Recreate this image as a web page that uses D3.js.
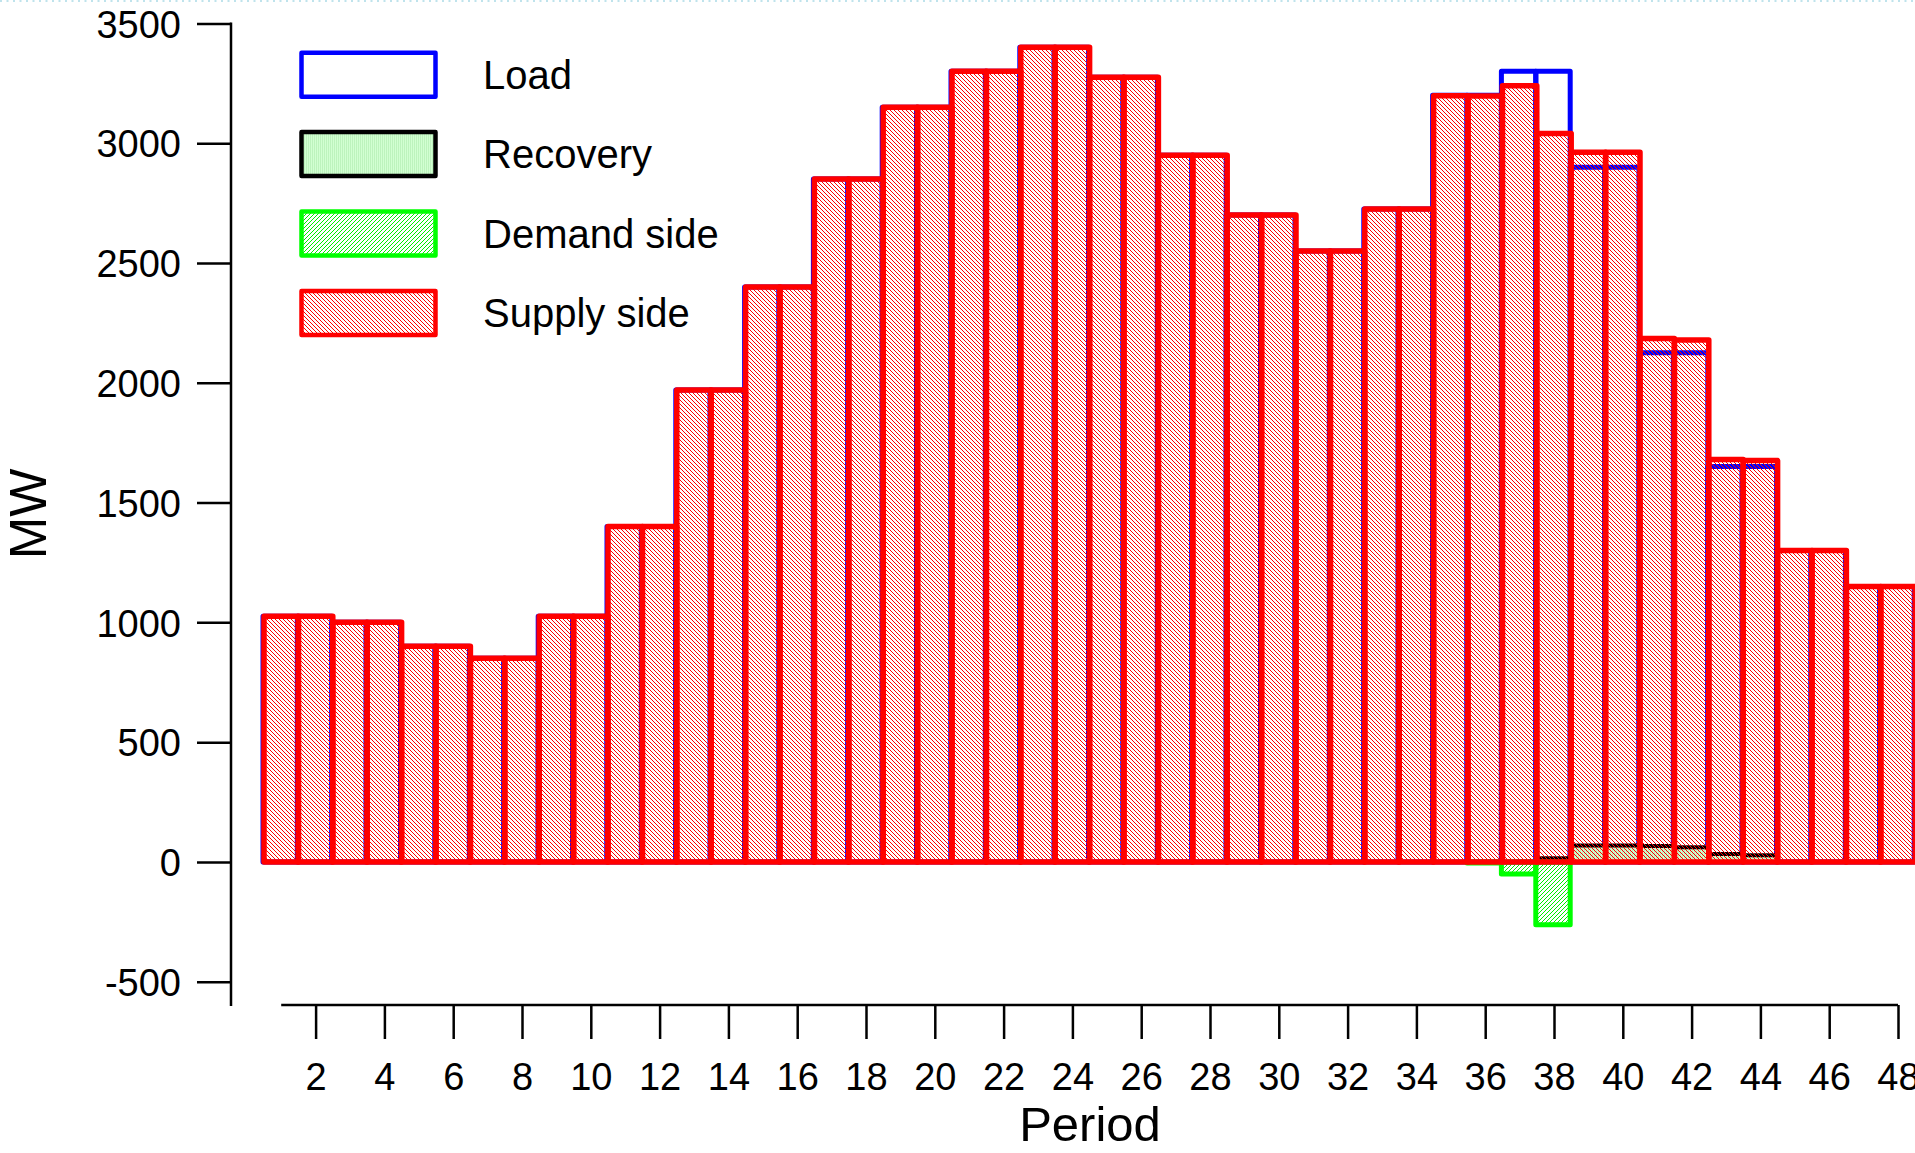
<!DOCTYPE html>
<html><head><meta charset="utf-8">
<script src="https://cdn.jsdelivr.net/npm/d3@7"></script>
<style>
html,body{margin:0;padding:0;background:#fff;}
svg{display:block;font-family:"Liberation Sans",Arial,sans-serif;}
</style>
</head><body>
<svg id="chart" width="1915" height="1153"></svg>
<script>
// ---- data ----
const periods = [1,2,3,4,5,6,7,8,9,10,11,12,13,14,15,16,17,18,19,20,21,22,23,24,
                 25,26,27,28,29,30,31,32,33,34,35,36,37,38,39,40,41,42,43,44,45,46,47,48];
const load = [1025,1025,1000,1000,900,900,850,850,1025,1025,1400,1400,1970,1970,2400,2400,
              2850,2850,3150,3150,3300,3300,3400,3400,3275,3275,2950,2950,2700,2700,2550,2550,
              2725,2725,3200,3200,3300,3300,2900,2900,2125,2125,1650,1650,1300,1300,1150,1150];
const recovery = [0,0,0,0,0,0,0,0,0,0,0,0,0,0,0,0,
                  0,0,0,0,0,0,0,0,0,0,0,0,0,0,0,0,
                  0,0,0,0,0,15,68,68,66,61,33,28,0,0,0,0];
const demandSide = [0,0,0,0,0,0,0,0,0,0,0,0,0,0,0,0,
                    0,0,0,0,0,0,0,0,0,0,0,0,0,0,0,0,
                    0,0,0,-5,-50,-262,0,0,0,0,0,0,0,0,0,0];
const supplySide = [1025,1025,1000,1000,900,900,850,850,1025,1025,1400,1400,1970,1970,2400,2400,
                    2850,2850,3150,3150,3300,3300,3400,3400,3275,3275,2950,2950,2700,2700,2550,2550,
                    2725,2725,3198,3197,3240,3040,2962,2962,2185,2178,1680,1675,1300,1300,1150,1150];
const xTickValues = [2,4,6,8,10,12,14,16,18,20,22,24,26,28,30,32,34,36,38,40,42,44,46,48];
const yTickValues = [-500,0,500,1000,1500,2000,2500,3000,3500];
const legendLabels = ["Load","Recovery","Demand side","Supply side"];

// ---- setup ----
const svg = d3.select("#chart");
const x = d3.scaleLinear().domain([0.5, 48.5]).range([264, 1915.2]);
const y = d3.scaleLinear().domain([-500, 3500]).range([981.7, 23.4]);
const bw = x(1.5) - x(0.5);

// patterns
const defs = svg.append("defs");
function hatch(id, color, dir) {
  const p = defs.append("pattern").attr("id", id)
    .attr("patternUnits", "userSpaceOnUse").attr("width", 4).attr("height", 4);
  for (let i = 0; i < 4; i++) {
    p.append("rect").attr("x", dir > 0 ? i : 3 - i).attr("y", i)
      .attr("width", 1).attr("height", 1).attr("fill", color)
      .attr("shape-rendering", "crispEdges");
  }
}
hatch("redHatch", "#ff0000", 1);
hatch("greenHatch", "#00ee00", -1);
const rp = defs.append("pattern").attr("id", "recFill")
  .attr("patternUnits", "userSpaceOnUse").attr("width", 2).attr("height", 2);
rp.append("rect").attr("width", 2).attr("height", 2).attr("fill", "#d2ffd2");
rp.append("rect").attr("width", 1).attr("height", 2).attr("fill", "#bdf3bd");

// top dotted line
svg.append("line").attr("x1", 0).attr("x2", 1915).attr("y1", 1).attr("y2", 1)
  .attr("stroke", "#bfe3ec").attr("stroke-width", 2).attr("stroke-dasharray", "2,4.5");

const rows = periods.map((p, i) => ({p, load: load[i], rec: recovery[i], dem: demandSide[i], sup: supplySide[i]}));

// load outlines
svg.append("g").selectAll("rect").data(rows).join("rect")
  .attr("x", d => x(d.p - 0.5) - 1).attr("width", bw)
  .attr("y", d => y(d.load)).attr("height", d => y(0) - y(d.load))
  .attr("fill", "none").attr("stroke", "#0000ff").attr("stroke-width", 5)
  .attr("stroke-linejoin", "round");

// recovery
svg.append("g").selectAll("rect").data(rows.filter(d => d.rec > 0)).join("rect")
  .attr("x", d => x(d.p - 0.5)).attr("width", bw)
  .attr("y", d => y(d.rec)).attr("height", d => y(0) - y(d.rec))
  .attr("fill", "url(#recFill)").attr("stroke", "#000").attr("stroke-width", 4)
  .attr("stroke-linejoin", "round");

// demand side
svg.append("g").selectAll("rect").data(rows.filter(d => d.dem < 0)).join("rect")
  .attr("x", d => x(d.p - 0.5) - 1).attr("width", bw)
  .attr("y", y(0)).attr("height", d => y(d.dem) - y(0))
  .attr("fill", "url(#greenHatch)").attr("stroke", "#00ff00").attr("stroke-width", 5)
  .attr("stroke-linejoin", "round");

// supply side
svg.append("g").selectAll("rect").data(rows).join("rect")
  .attr("x", d => x(d.p - 0.5)).attr("width", bw)
  .attr("y", d => y(d.sup)).attr("height", d => y(0) - y(d.sup))
  .attr("fill", "url(#redHatch)").attr("stroke", "#ff0000").attr("stroke-width", 5.5)
  .attr("stroke-linejoin", "round");

// ---- axes ----
const axisColor = "#000";
const yAxis = d3.axisLeft(y).tickValues(yTickValues).tickSize(34).tickSizeOuter(0)
  .tickPadding(16).tickFormat(d => String(d));
const gy = svg.append("g").attr("transform", "translate(231,0)").call(yAxis);
gy.select(".domain").remove();
gy.selectAll(".tick line").attr("stroke", axisColor).attr("stroke-width", 2.5);
gy.selectAll(".tick text").attr("font-size", 38).attr("fill", "#000")
  .attr("font-family", "Liberation Sans, Arial, sans-serif").attr("dy", "0.36em");
gy.append("line").attr("x1", 0).attr("x2", 0).attr("y1", y(3500) - 1).attr("y2", 1006)
  .attr("stroke", axisColor).attr("stroke-width", 2.5);

const xAxis = d3.axisBottom(x).tickValues(xTickValues).tickSize(34).tickSizeOuter(0)
  .tickFormat(d => String(d));
const gx = svg.append("g").attr("transform", "translate(0,1005)").call(xAxis);
gx.select(".domain").remove();
gx.selectAll(".tick line").attr("stroke", axisColor).attr("stroke-width", 2.5);
gx.selectAll(".tick text").attr("font-size", 38).attr("fill", "#000")
  .attr("font-family", "Liberation Sans, Arial, sans-serif").attr("y", 85).attr("dy", 0);
gx.append("line").attr("x1", x(1)).attr("x2", x(48)).attr("y1", 0).attr("y2", 0)
  .attr("stroke", axisColor).attr("stroke-width", 2.5);

// axis titles
svg.append("text").attr("x", 1090).attr("y", 1141).attr("text-anchor", "middle")
  .attr("font-size", 49).attr("fill", "#000").text("Period");
svg.append("text").attr("transform", "translate(46,514) rotate(-90)")
  .attr("text-anchor", "middle").attr("font-size", 51).attr("fill", "#000").text("MW");

// ---- legend ----
const legStyles = [
  {stroke: "#0000ff", fill: "#fff", sw: 4.5},
  {stroke: "#000000", fill: "url(#recFill)", sw: 4.5},
  {stroke: "#00ff00", fill: "url(#greenHatch)", sw: 4.5},
  {stroke: "#ff0000", fill: "url(#redHatch)", sw: 4.5}
];
const leg = svg.append("g");
legendLabels.forEach((lab, i) => {
  const cy = 74.7 + i * 79.4;
  leg.append("rect").attr("x", 301.5).attr("y", cy - 22).attr("width", 134).attr("height", 44)
    .attr("fill", legStyles[i].fill).attr("stroke", legStyles[i].stroke)
    .attr("stroke-width", legStyles[i].sw).attr("stroke-linejoin", "round");
  leg.append("text").attr("x", 483).attr("y", cy + 14).attr("font-size", 40)
    .attr("fill", "#000").text(lab);
});
</script>
</body></html>
